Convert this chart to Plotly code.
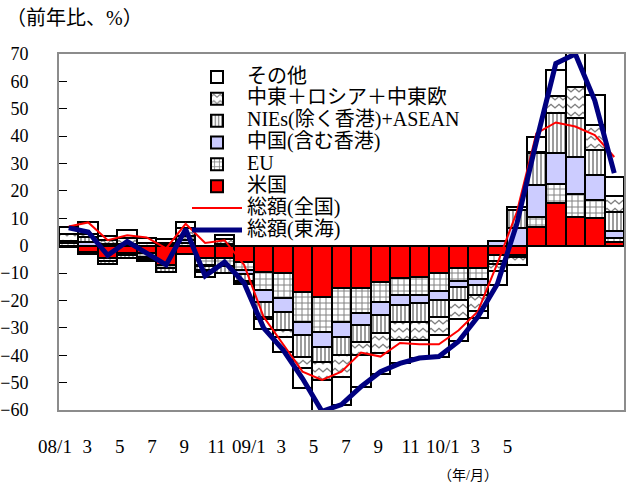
import plotly.graph_objects as go

# ---------------- data ----------------
months = [
    "2008/01", "2008/02", "2008/03", "2008/04", "2008/05", "2008/06", "2008/07", "2008/08",
    "2008/09", "2008/10", "2008/11", "2008/12", "2009/01", "2009/02", "2009/03", "2009/04",
    "2009/05", "2009/06", "2009/07", "2009/08", "2009/09", "2009/10", "2009/11", "2009/12",
    "2010/01", "2010/02", "2010/03", "2010/04", "2010/05",
]
us = [-0.5, -2.2, -4.5, -2.8, -2.8, -7.0, -3.0, -4.5, -4.5, -6.0, -9.5, -10.1, -16.8, -18.6,
      -15.6, -15.6, -13.1, -11.9, -11.5, -10.0, -8.0, -8.0, -3.4, -3.5, 7.0, 15.5, 10.6, 10.0, 1.3]
eu = [1.0, -0.8, -1.0, -0.7, -1.5, -1.0, 1.0, -2.5, -3.0, -3.0, -6.7, -9.1, -10.9, -12.8,
      -12.1, -9.1, -7.3, -6.1, -6.5, -6.5, -5.0, -4.0, -2.2, -0.5, 3.5, 6.9, 8.3, 6.7, 1.5]
china = [0.3, 1.5, 0.5, 0.8, -0.5, 0.3, 1.0, -0.3, 0.8, -1.5, -4.2, -4.9, -4.9, -5.5,
         -5.5, -4.3, -4.9, -3.7, -3.0, -3.5, -2.0, -2.5, 1.8, 6.5, 11.6, 11.6, 13.6, 9.1, 2.7]
nies_asean = [0.5, 1.5, -1.2, -1.0, -0.7, -1.5, 1.5, -1.5, -2.5, -2.5, -5.5, -6.7, -7.9, -5.4,
              -6.7, -6.0, -6.7, -6.0, -6.7, -6.0, -4.8, -3.5, -1.0, 6.5, 11.8, 14.6, 14.0, 9.2, 6.9]
mideast = [2.6, 1.3, 1.5, 2.0, 1.0, 0.8, 3.0, -0.7, 1.5, -0.5, -1.0, -2.4, -4.3, -6.7,
           -7.9, -5.0, -7.3, -6.7, -6.7, -6.5, -7.0, -6.0, -2.6, -3.0, 0.3, 6.1, 11.5, 9.0, 5.8]
other = [2.5, 4.5, 1.5, 3.0, 1.8, 1.2, 2.0, -1.8, 1.7, -0.6, -3.5, -5.5, -7.3, -11.6,
         -10.4, -11.5, -7.5, -8.6, -6.6, -8.0, -8.0, -2.4, -5.3, 1.2, 5.6, 9.6, 12.2, 11.0, 7.0]
total_japan = [7.0, 8.5, 2.0, 3.8, 3.0, -1.0, 8.0, 1.0, 2.0, -7.0, -26.0, -36.0, -46.0, -49.0,
               -46.0, -39.0, -40.5, -35.5, -36.0, -36.0, -31.0, -24.0, -6.5, 12.3, 41.0, 45.0,
               43.5, 40.4, 32.4]
total_tokai = [6.5, 5.0, -3.5, 1.5, -2.7, -7.0, 6.0, -11.0, -6.0, -13.6, -30.0, -38.0, -48.5,
               -60.5, -58.0, -51.5, -46.0, -43.0, -41.0, -40.5, -35.0, -26.0, -14.0, 8.0, 38.0,
               66.5, 70.0, 53.0, 26.5]

tick_text = ["08/1", "3", "5", "7", "9", "11", "09/1", "3", "5", "7", "9", "11", "10/1", "3", "5"]
tick_month_index = list(range(0, 29, 2))
boundaries = [i - 0.5 for i in range(len(months) + 1)]

SERIF = "'Liberation Serif', 'Times New Roman', 'DejaVu Serif', 'Noto Sans CJK JP', serif"
LEG = '<span style="font-size:20px">{}</span>'


def wave_pattern():
    try:
        return go.bar.marker.Pattern(path="M0,5 L4,1.5 L8,5 L8,6.8 L4,3.3 L0,6.8 Z", size=8,
                                     fgcolor="black", bgcolor="white")
    except Exception:
        return go.bar.marker.Pattern(shape="x", size=7, solidity=0.2,
                                     fgcolor="black", bgcolor="white")


fig = go.Figure()
line_black = dict(color="black", width=2)

fig.add_trace(go.Bar(x=months, y=us, name=LEG.format("米国"), legendrank=6,
                     marker=dict(color="#ff0000", line=line_black)))
fig.add_trace(go.Bar(x=months, y=eu, name=LEG.format("EU"), legendrank=5,
                     marker=dict(color="white", line=line_black,
                                 pattern=dict(shape="+", size=6, solidity=0.3,
                                              fgcolor="black", bgcolor="white"))))
fig.add_trace(go.Bar(x=months, y=china, name=LEG.format("中国(含む香港)"), legendrank=4,
                     marker=dict(color="#ccccff", line=line_black)))
fig.add_trace(go.Bar(x=months, y=nies_asean, name=LEG.format("NIEs(除く香港)+ASEAN"), legendrank=3,
                     marker=dict(color="white", line=line_black,
                                 pattern=dict(shape="|", size=4, solidity=0.45,
                                              fgcolor="#222222", bgcolor="white"))))
fig.add_trace(go.Bar(x=months, y=mideast, name=LEG.format("中東＋ロシア＋中東欧"), legendrank=2,
                     marker=dict(color="white", line=line_black, pattern=wave_pattern())))
fig.add_trace(go.Bar(x=months, y=other, name=LEG.format("その他"), legendrank=1,
                     marker=dict(color="white", line=line_black)))
fig.add_trace(go.Scatter(x=months, y=total_japan, name=LEG.format("総額(全国)"), legendrank=7,
                         mode="lines", line=dict(color="#ff0000", width=2)))
fig.add_trace(go.Scatter(x=months, y=total_tokai, name=LEG.format("総額(東海)"), legendrank=8,
                         mode="lines", line=dict(color="#000080", width=5)))
# empty trace so that the month-label axis (x2) is rendered
fig.add_trace(go.Scatter(x=[None], y=[None], xaxis="x2", yaxis="y", showlegend=False,
                         hoverinfo="skip", mode="markers"))

W, H = 633, 484
ML, MR, MT, MB = 40, 9, 54, 74
pw = W - ML - MR
ph = H - MT - MB
x_start = (59 - ML) / pw
px_per_month = 16.16
lab0 = 55.0  # pixel of first label centre

fig.update_layout(
    width=W, height=H,
    margin=dict(l=ML, r=MR, t=MT, b=MB, autoexpand=False),
    paper_bgcolor="white", plot_bgcolor="rgba(0,0,0,0)",
    barmode="relative", bargap=0,
    font=dict(family=SERIF, color="black", size=16),
    showlegend=True,
    legend=dict(x=(187 - ML) / pw, y=(MT + ph - 61) / ph, xanchor="left", yanchor="top",
                bgcolor="rgba(0,0,0,0)", borderwidth=0, traceorder="normal",
                itemwidth=50, font=dict(family=SERIF, size=14.5, color="black")),
    xaxis=dict(domain=[x_start, 1], range=[-0.5, len(months) - 0.5], showticklabels=False,
               ticks="", showline=True, linecolor="#8c8c8c", linewidth=2, mirror=True,
               showgrid=False, zeroline=False),
    yaxis=dict(range=[-60, 70], tick0=0, dtick=10, ticks="inside", ticklen=8, tickwidth=1,
               tickcolor="black", showline=True, linecolor="#8c8c8c", linewidth=2,
               mirror=True, showgrid=False, zeroline=False, ticklabelstandoff=25,
               tickfont=dict(family=SERIF, size=18, color="black")),
    xaxis2=dict(domain=[0, 1], anchor="y", type="linear",
                range=[(ML - lab0) / px_per_month, (W - MR - lab0) / px_per_month],
                tickmode="array", tickvals=tick_month_index, ticktext=tick_text,
                ticks="", showline=False, showgrid=False, zeroline=False,
                ticklabelstandoff=23, tickfont=dict(family=SERIF, size=19, color="black")),
    xaxis3=dict(overlaying="x", anchor="free", position=60 / 130, side="top", type="linear",
                domain=[x_start, 1], range=[-0.5, len(months) - 0.5],
                tickmode="array", tickvals=boundaries, ticks="outside", ticklen=5,
                tickwidth=1, tickcolor="black", showticklabels=False, showline=True,
                linecolor="black", linewidth=2, showgrid=False, zeroline=False),
    annotations=[
        dict(text="（前年比、%）", xref="paper", yref="paper",
             x=(4 - ML) / pw, y=(MT + ph - 18) / ph, xanchor="left", yanchor="middle",
             showarrow=False, font=dict(family=SERIF, size=20, color="black")),
        dict(text="（年/月）", xref="paper", yref="paper",
             x=(468 - ML) / pw, y=(MT + ph - 466) / ph, xanchor="center", yanchor="top",
             showarrow=False, font=dict(family=SERIF, size=14, color="black")),
    ],
)

fig.write_html("out.html", config={"displayModeBar": False},
               post_script="document.body.style.margin='0px';")
